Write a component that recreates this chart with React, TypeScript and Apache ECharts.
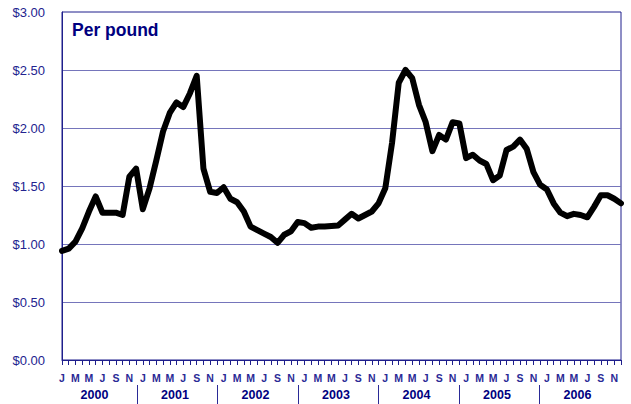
import React, { useEffect, useRef } from "react";
import * as echarts from "echarts";

const years = ["2000", "2001", "2002", "2003", "2004", "2005", "2006"];
const monthLetters = ["J", "F", "M", "A", "M", "J", "J", "A", "S", "O", "N", "D"];

const v2000 = [0.94, 0.96, 1.02, 1.135, 1.28, 1.41, 1.27, 1.27, 1.27, 1.25, 1.58, 1.65];
const v2001 = [1.3, 1.48, 1.72, 1.97, 2.13, 2.22, 2.18, 2.3, 2.45, 1.65, 1.45, 1.44];
const v2002 = [1.49, 1.39, 1.36, 1.28, 1.15, 1.12, 1.09, 1.06, 1.01, 1.08, 1.11, 1.19];
const v2003 = [1.18, 1.14, 1.15, 1.15, 1.155, 1.16, 1.21, 1.26, 1.22, 1.25, 1.28, 1.35];
const v2004 = [1.48, 1.87, 2.39, 2.5, 2.43, 2.2, 2.05, 1.8, 1.94, 1.9, 2.05, 2.04];
const v2005 = [1.74, 1.77, 1.72, 1.69, 1.55, 1.59, 1.81, 1.84, 1.9, 1.82, 1.62, 1.51];
const v2006 = [1.47, 1.35, 1.27, 1.24, 1.26, 1.25, 1.23, 1.32, 1.42, 1.42, 1.39, 1.35];

const yTicks = { min: 0, max: 3, interval: 0.5 };
const titleText = "Per pound";

const FONT = "'Liberation Sans', Arial, sans-serif";

export default function App() {
  const ref = useRef<HTMLDivElement>(null);

  useEffect(() => {
    if (!ref.current) return;
    const chart = echarts.init(ref.current, null, { renderer: "svg" });

    const months: string[] = [];
    years.forEach((y) => monthLetters.forEach((_, m) => months.push(`${y}-${m + 1}`)));
    const values = [...v2000, ...v2001, ...v2002, ...v2003, ...v2004, ...v2005, ...v2006];

    chart.setOption({
      animation: false,
      backgroundColor: "#ffffff",
      title: {
        text: titleText,
        left: 72,
        top: 21,
        padding: 0,
        textStyle: { fontFamily: FONT, fontSize: 17.5, fontWeight: "bold", color: "#000080" },
      },
      grid: [
        { left: 62, right: 10, top: 12, bottom: 44, show: true, borderColor: "#1f1f8c", borderWidth: 1 },
        { left: 56.7, right: 10.8, top: 385, bottom: 0 },
      ],
      xAxis: [
        {
          type: "category",
          gridIndex: 0,
          data: months,
          boundaryGap: false,
          axisLine: { show: true, lineStyle: { color: "#1f1f8c", width: 1 } },
          axisTick: { show: true, interval: 0, length: 5, lineStyle: { color: "#1f1f8c" } },
          axisLabel: {
            interval: (i: number) => i % 2 === 0,
            formatter: (v: string) => monthLetters[parseInt(v.split("-")[1], 10) - 1],
            fontFamily: FONT,
            fontSize: 10.5,
            fontWeight: "bold",
            color: "#2a2a96",
            margin: 12,
          },
          splitLine: { show: false },
        },
        {
          type: "category",
          gridIndex: 1,
          data: years,
          boundaryGap: true,
          position: "top",
          axisLine: { show: false },
          axisTick: { show: false },
          axisLabel: {
            inside: true,
            interval: 0,
            margin: 3,
            fontFamily: FONT,
            fontSize: 12.5,
            fontWeight: "bold",
            color: "#000080",
            padding: [0, 5, 0, 0],
          },
          splitLine: {
            show: true,
            interval: 0,
            showMinLine: false,
            showMaxLine: false,
            lineStyle: { color: "#2a2a96", width: 1 },
          },
        },
      ],
      yAxis: [
        {
          type: "value",
          gridIndex: 0,
          min: yTicks.min,
          max: yTicks.max,
          interval: yTicks.interval,
          axisLine: { show: true, lineStyle: { color: "#1f1f8c" } },
          axisTick: { show: false },
          axisLabel: {
            formatter: (v: number) => "$" + v.toFixed(2),
            fontFamily: FONT,
            fontSize: 13,
            color: "#23238f",
            margin: 17,
          },
          splitLine: {
            show: true,
            showMinLine: false,
            showMaxLine: false,
            lineStyle: { color: "#7575bb", width: 1.2 },
          },
        },
        { type: "value", gridIndex: 1, show: false, min: 0, max: 1 },
      ],
      series: [
        {
          type: "line",
          xAxisIndex: 0,
          yAxisIndex: 0,
          data: values,
          symbol: "none",
          lineStyle: { color: "#000000", width: 6, cap: "round", join: "round" },
          z: 5,
        },
      ],
    });

    return () => chart.dispose();
  }, []);

  return (
    <div
      ref={ref}
      style={{ position: "fixed", left: 0, top: 0, width: 631, height: 404 }}
    />
  );
}
